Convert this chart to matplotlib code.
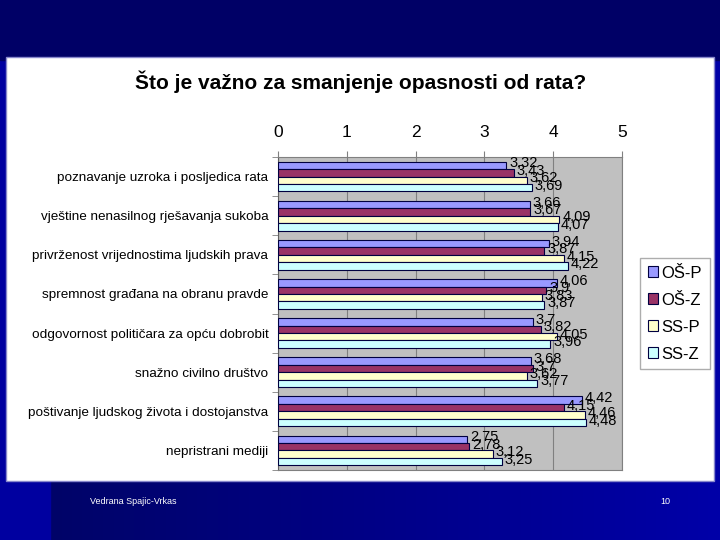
import numpy as np
import matplotlib
matplotlib.use("Agg")
import matplotlib.pyplot as plt
from matplotlib.patches import Rectangle
from matplotlib.colors import LinearSegmentedColormap

title = "Što je važno za smanjenje opasnosti od rata?"
categories = [
    "poznavanje uzroka i posljedica rata",
    "vještine nenasilnog rješavanja sukoba",
    "privrženost vrijednostima ljudskih prava",
    "spremnost građana na obranu pravde",
    "odgovornost političara za opću dobrobit",
    "snažno civilno društvo",
    "poštivanje ljudskog života i dostojanstva",
    "nepristrani mediji",
]
series_names = ["OŠ-P", "OŠ-Z", "SS-P", "SS-Z"]
os_p = [3.32, 3.66, 3.94, 4.06, 3.70, 3.68, 4.42, 2.75]
os_z = [3.43, 3.67, 3.87, 3.90, 3.82, 3.70, 4.15, 2.78]
ss_p = [3.62, 4.09, 4.15, 3.83, 4.05, 3.62, 4.46, 3.12]
ss_z = [3.69, 4.07, 4.22, 3.87, 3.96, 3.77, 4.48, 3.25]
xticks = [0, 1, 2, 3, 4, 5]
colors = ["#9999FF", "#993366", "#FFFFCC", "#CCFFFF"]

plt.rcParams['font.family'] = ['Liberation Sans', 'DejaVu Sans']

W, H = 720, 540
fig = plt.figure(figsize=(7.2, 5.4), dpi=100)

# background
bg = fig.add_axes([0, 0, 1, 1])
bg.set_xlim(0, W); bg.set_ylim(H, 0); bg.axis('off')
grad = np.linspace(0, 1, 256)[None, :]
cm_bot = LinearSegmentedColormap.from_list("b", ["#000468", "#000088", "#0000A8"])
bg.imshow(np.tile(grad, (2, 1)), extent=[50, W, H, 0], cmap=cm_bot, aspect='auto', zorder=0)
bg.add_patch(Rectangle((0, 0), 50, H, color="#0000A0", zorder=1))
bg.add_patch(Rectangle((0, 0), W, 60, color="#000066", zorder=1))
bg.add_patch(Rectangle((6, 57), 708, 424, facecolor="white", edgecolor="#8888CC", lw=1, zorder=2))
bg.text(W / 2 + 1, 82, title, ha='center', va='center', fontsize=15, fontweight='bold',
        color='black', zorder=3)
bg.text(90, 502, "Vedrana Spajic-Vrkas", fontsize=6.5, color='white', va='center', zorder=3)
bg.text(665, 502, "10", fontsize=6.5, color='white', va='center', ha='center', zorder=3)

# chart axes: x 278..622, y 157..470
ax = fig.add_axes([278 / W, 1 - 470 / H, (622 - 278) / W, (470 - 157) / H])
ax.set_facecolor("#C0C0C0")
n = len(categories)
y = np.arange(n)
bh = 0.19
data = [os_p, os_z, ss_p, ss_z]
for i, (vals, c, name) in enumerate(zip(data, colors, series_names)):
    pos = y - 1.5 * bh + i * bh
    ax.barh(pos, vals, height=bh, color=c, edgecolor='#000040', linewidth=0.8, label=name, zorder=3)
    for p, v in zip(pos, vals):
        s = ("%.2f" % v).rstrip('0').rstrip('.').replace('.', ',')
        ax.text(v + 0.04, p - 0.05, s, fontsize=10.5, va='center', ha='left', zorder=4)
ax.set_xlim(0, 5)
ax.set_ylim(n - 0.5, -0.5)
ax.set_xticks(xticks)
ax.set_xticklabels([str(t) for t in xticks], fontsize=12.5)
ax.xaxis.tick_top()
ax.tick_params(axis='x', length=4, color='#808080', pad=8)
ax.set_yticks(y)
ax.set_yticklabels(categories, fontsize=9.7)
ax.tick_params(axis='y', length=0, pad=7)
ax.set_yticks(np.arange(n + 1) - 0.5, minor=True)
ax.tick_params(axis='y', which='minor', length=4, color='#808080')
ax.grid(axis='x', color='#808080', lw=0.8, zorder=1)
for sp in ax.spines.values():
    sp.set_color('#808080')
ax.spines['left'].set_color('#606060')

leg = fig.legend(loc='upper left', bbox_to_anchor=(640 / W, 1 - 258 / H), fontsize=12,
                 frameon=True, fancybox=False, edgecolor='#999999', handlelength=0.6,
                 handleheight=0.6, handletextpad=0.25, labelspacing=0.72, borderpad=0.45,
                 borderaxespad=0)
for h in leg.legend_handles:
    h.set_edgecolor('#000040')

fig.savefig("out.png", dpi=100)
